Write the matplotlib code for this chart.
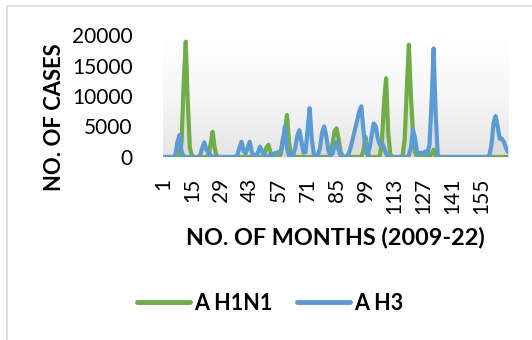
import numpy as np
import matplotlib
matplotlib.use("Agg")
import matplotlib.pyplot as plt
from matplotlib.patches import Rectangle

plt.rcParams['font.family'] = ['Lato', 'DejaVu Sans']

# monthly case counts, Jan 2009 .. Dec 2022 (one row per year)
h1n1 = [
    0, 0, 0, 0, 0, 0, 0, 0, 200, 2500, 12000, 18900,
    9000, 1500, 200, 0, 0, 0, 0, 0, 0, 0, 300, 2000,
    4100, 1500, 100, 0, 0, 0, 0, 0, 0, 0, 0, 0,
    0, 0, 0, 0, 0, 0, 0, 0, 0, 0, 0, 0,
    0, 300, 1500, 2000, 800, 100, 0, 0, 0, 500, 3000, 4000,
    6900, 2500, 200, 0, 0, 0, 0, 0, 0, 0, 0, 0,
    0, 0, 0, 0, 0, 0, 0, 0, 0, 300, 2000, 4200,
    4700, 3000, 800, 100, 0, 0, 0, 0, 0, 0, 0, 0,
    0, 1000, 3300, 800, 0, 0, 0, 0, 0, 300, 2500, 9000,
    12900, 4000, 500, 0, 0, 0, 0, 0, 200, 3000, 11000, 18400,
    10000, 4000, 800, 0, 0, 0, 0, 0, 0, 0, 500, 1200,
    200, 0, 0, 0, 0, 0, 0, 0, 0, 0, 0, 0,
    0, 0, 0, 0, 0, 0, 0, 0, 0, 0, 0, 0,
    0, 0, 0, 0, 0, 0, 0, 0, 0, 0, 0, 0,
]
h3 = [
    0, 0, 0, 0, 0, 0, 300, 2500, 3600, 800, 100, 0,
    0, 0, 0, 0, 0, 0, 300, 1500, 2400, 1200, 800, 300,
    0, 0, 0, 0, 0, 0, 0, 0, 0, 0, 0, 0,
    300, 1500, 2500, 1000, 600, 1500, 2500, 800, 200, 100, 800, 1700,
    900, 200, 100, 100, 300, 400, 600, 700, 800, 900, 2500, 5000,
    1500, 200, 0, 300, 1500, 3500, 4400, 2500, 700, 800, 4500, 8000,
    3000, 500, 200, 300, 1500, 4000, 5000, 3500, 1200, 200, 500, 1800,
    2500, 1200, 200, 0, 0, 200, 600, 1800, 3200, 4600, 6000, 7500,
    8300, 4500, 1500, 300, 1500, 3500, 5500, 5000, 3000, 2000, 2300, 1500,
    500, 100, 0, 0, 0, 0, 0, 0, 0, 0, 0, 300,
    1500, 4500, 3000, 800, 500, 700, 600, 900, 600, 2000, 9000, 17800,
    7000, 300, 0, 0, 0, 0, 0, 0, 0, 0, 0, 0,
    0, 0, 0, 0, 0, 0, 0, 0, 0, 0, 0, 0,
    0, 0, 300, 2000, 5500, 6700, 5000, 3000, 3000, 2500, 1500, 800,
]
months = np.arange(1, len(h1n1) + 1)
tick_months = list(range(1, 168, 14))
y_ticks = [0, 5000, 10000, 15000, 20000]

fig = plt.figure(figsize=(5.32, 3.40), dpi=100)
W, H = 532, 340

# light chart-area border
fig.patches.append(Rectangle((7 / W, -0.1), 1.2, 1 - 6 / H + 0.1,
                             transform=fig.transFigure, fill=False,
                             edgecolor='#d9d9d9', linewidth=1.2))

ax = fig.add_axes([163 / W, 1 - 157 / H, (508 - 163) / W, (157 - 35) / H])

# plot-area gradient, white at top to light grey at bottom
grad = np.linspace(0, 1, 256).reshape(-1, 1)
ax.imshow(grad, extent=[1, 168, 0, 20000], aspect='auto', origin='upper',
          cmap=matplotlib.colors.LinearSegmentedColormap.from_list(
              'bg', ['#ffffff', '#f7f7f7', '#e4e4e4']), zorder=0)

ax.fill_between(months, 0, h1n1, color='#cfcfcf', alpha=0.45, lw=0, zorder=1)
ax.fill_between(months, 0, h3, color='#cfcfcf', alpha=0.45, lw=0, zorder=1)
ax.plot(months, h1n1, color='#70AD47', lw=3, label='A H1N1',
        solid_capstyle='round', solid_joinstyle='round', zorder=3)
ax.plot(months, h3, color='#5B9BD5', lw=3, label='A H3',
        solid_capstyle='round', solid_joinstyle='round', zorder=4)

ax.set_xlim(1, 168)
ax.set_ylim(0, 20000)
ax.set_xticks(tick_months)
ax.set_xticklabels([str(m) for m in tick_months], rotation=90)
ax.set_yticks(y_ticks)
for s in ax.spines.values():
    s.set_visible(False)
ax.tick_params(axis='both', length=0, labelsize=15, colors='black')
ax.tick_params(axis='x', pad=15)
ax.tick_params(axis='y', pad=22)

fig.text(335 / W, 1 - 238 / H, 'NO. OF MONTHS (2009-22)', ha='center',
         va='center', fontsize=16.8, fontweight='bold')
fig.text(55 / W, 1 - 117 / H, 'NO. OF CASES', ha='center', va='center',
         rotation=90, fontsize=15.8, fontweight='bold')

leg = fig.legend(loc='center', bbox_to_anchor=(270 / W, 1 - 303 / H), ncol=2,
                 frameon=False, prop={'weight': 'bold', 'size': 15.5},
                 handlelength=2.45, handletextpad=0.2, columnspacing=1.15)
for line in leg.get_lines():
    line.set_linewidth(3.5)

fig.savefig('out.png', dpi=100)
